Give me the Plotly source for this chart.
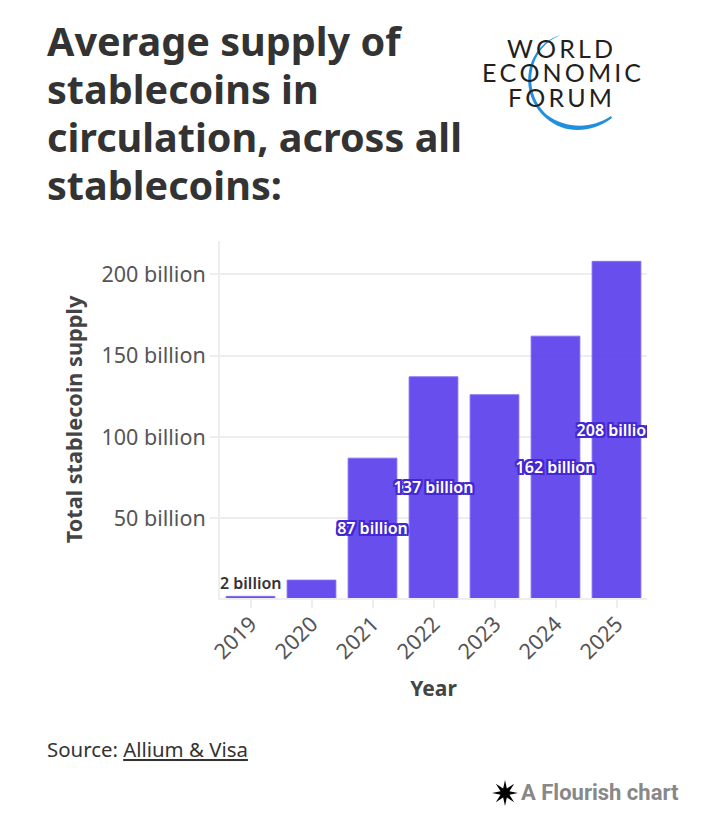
import numpy as np
import plotly.graph_objects as go

years = ['2019', '2020', '2021', '2022', '2023', '2024', '2025']
supply = [2, 12, 87, 137, 126, 162, 208]
labelled = ['2021', '2022', '2024', '2025']
y_ticks = [50, 100, 150, 200]
y_tick_labels = ['50 billion', '100 billion', '150 billion', '200 billion']
title_lines = ['Average supply of', 'stablecoins in', 'circulation, across all', 'stablecoins:']
y_min, y_max = 1, 220.5

# the page body has an 8px margin, so all page positions below are shifted by it
PAGE = 8
W, H = 720 - PAGE, 828 - PAGE
L, R, T, B = 220 - PAGE, 647 - PAGE, 241 - PAGE, 598 - PAGE
FONT = 'Noto Sans'
GRID = '#eeeef0'

def px(x):
    return (x - PAGE - L) / (R - L)

def py(y):
    return (B - (y - PAGE)) / (B - T)

def note(x, y, text, size, color, font=FONT, weight=400, anchor='left'):
    return dict(x=px(x), y=py(y), xref='paper', yref='paper', text=text, showarrow=False,
                xanchor=anchor, yanchor='middle', align=anchor,
                font=dict(family=font, size=size, color=color, weight=weight))

fig = go.Figure()
fig.add_trace(go.Bar(x=years, y=supply, width=0.8,
                     marker=dict(color='rgba(91,64,235,0.92)',
                                 line=dict(color='rgba(130,110,245,0.9)', width=1)),
                     hoverinfo='skip'))

# labels sit mid bar (the axis starts a little above zero), nudged since Noto sits high
outline = ','.join(f'{a}px {b}px 0.5px #4327d2' for a in (-2, 0, 2) for b in (-2, 0, 2))
nudge = 2 * (y_max - y_min) / (B - T)
for yr in labelled:
    v = supply[years.index(yr)]
    fig.add_trace(go.Scatter(x=[yr], y=[(v + y_min) / 2 - nudge], mode='text', text=[f'{v} billion'],
                             textposition='middle center',
                             textfont=dict(family=FONT, size=16, weight=600, color='white',
                                           shadow=outline),
                             cliponaxis=True, hoverinfo='skip'))

fig.update_layout(
    width=W, height=H, autosize=False, showlegend=False,
    paper_bgcolor='white', plot_bgcolor='white',
    margin=dict(l=L, r=W - R, t=T, b=H - B, pad=0),
    bargap=0.2,
    font=dict(family=FONT, color='#444444'),
)
fig.update_xaxes(type='category', range=[-0.5, 6.5], tickangle=-45, ticks='outside', ticklen=8,
                 ticklabelstandoff=-5,
                 tickcolor=GRID, tickwidth=2, showline=True, linecolor=GRID, linewidth=2,
                 showgrid=False, tickfont=dict(size=21.5, color='#555555'),
                 title=dict(text='Year', standoff=18,
                            font=dict(size=21, weight=700, color='#444444')))
fig.update_yaxes(range=[y_min, y_max], tickvals=y_ticks, ticktext=y_tick_labels, ticks='outside', ticklen=8,
                 tickcolor=GRID, tickwidth=2, gridcolor=GRID, gridwidth=2,
                 showline=True, linecolor=GRID, linewidth=2, zeroline=False,
                 tickfont=dict(size=21.5, color='#555555'),
                 title=dict(text='Total stablecoin supply', standoff=13,
                            font=dict(size=21.7, weight=700, color='#444444')))

annotations = [
    note(45, 749, 'Source: <u>Allium &amp; Visa</u>', 20.4, '#333333'),
    note(519, 792, 'A Flourish chart', 22, '#888888', font='Roboto', weight=700),
    # category axis annotations take the category's index, not its name
    dict(x=years.index('2019'), y=supply[0], xref='x', yref='y', text=f'{supply[0]} billion', showarrow=False,
         yanchor='bottom', font=dict(family=FONT, size=16, weight=600, color='#333333')),
]
for i, line in enumerate(title_lines):
    annotations.append(note(45, 41 + 48 * i, line, 39.6, '#333333', weight=700))
# logo lettering, hair spaces stand in for the letter spacing
for word, lx, ly in [('WORLD', 560, 48), ('ECONOMIC', 561.5, 72), ('FORUM', 559.5, 97)]:
    annotations.append(note(lx, ly, '\u200a\u200a'.join(word), 25, '#231f20', font='Lato', anchor='center'))
fig.update_layout(annotations=annotations)

def p(x, y):
    return f'{px(x):.5f} {py(y):.5f}'

# logo crescent
crescent = (f'M {p(561, 35)} C {p(528, 44)} {p(515, 90)} {p(546, 118)} '
            f'C {p(565, 135)} {p(592, 133)} {p(612, 118)} '
            f'L {p(611, 116)} C {p(592, 129)} {p(566, 129)} {p(547, 115)} '
            f'C {p(520, 90)} {p(530, 46)} {p(561, 35)} Z')
shapes = [dict(type='path', xref='paper', yref='paper', path=crescent,
               fillcolor='#1f8fe0', line=dict(width=0), layer='above')]

# flourish star, eight spikes around a small core
cx, cy = 505, 793
pts = []
for i in range(16):
    a = np.pi * i / 8
    r = 13 if i % 2 == 0 else 4.8
    pts.append(p(cx + r * np.cos(a), cy + r * np.sin(a)))
shapes.append(dict(type='path', xref='paper', yref='paper',
                   path='M ' + ' L '.join(pts) + ' Z', fillcolor='black',
                   line=dict(width=0), layer='above'))
fig.update_layout(shapes=shapes)

fig.write_html('out.html')
